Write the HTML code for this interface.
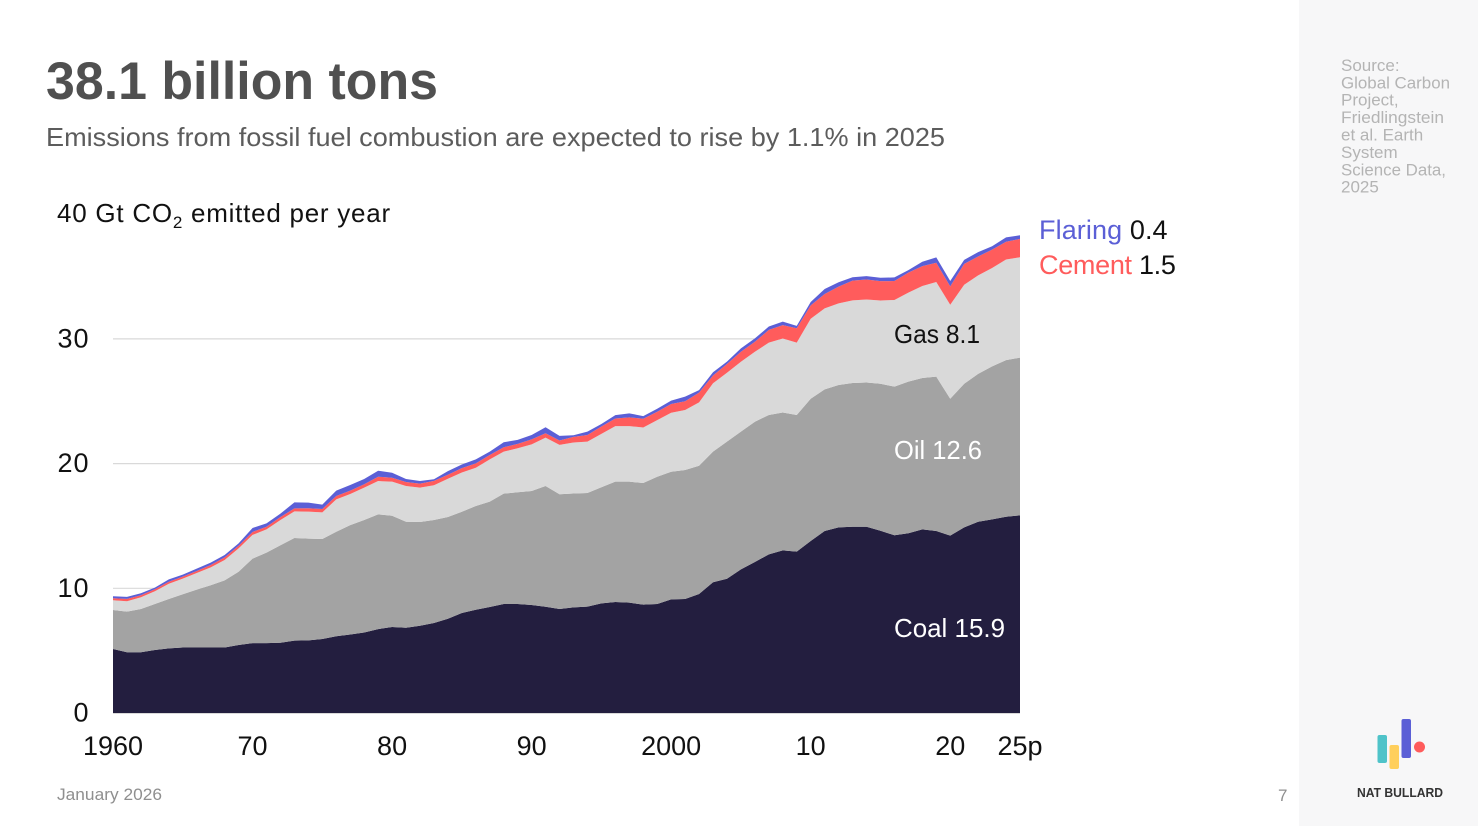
<!DOCTYPE html>
<html lang="en">
<head>
<meta charset="utf-8">
<title>38.1 billion tons</title>
<style>
html,body{margin:0;padding:0;background:#fff;width:1478px;height:826px;overflow:hidden}
svg{display:block}
text{font-family:"Liberation Sans",sans-serif}
</style>
</head>
<body>
<svg id="slide" xmlns="http://www.w3.org/2000/svg" width="1478" height="826" viewBox="0 0 1478 826">
  <rect x="0" y="0" width="1478" height="826" fill="#ffffff"/>
  <rect x="1299" y="0" width="179" height="826" fill="#f7f7f8"/>

  <text x="46" y="99" font-size="53" font-weight="700" fill="#505050" textLength="392" lengthAdjust="spacingAndGlyphs">38.1 billion tons</text>
  <text x="46" y="146" font-size="26" fill="#5c5c5c" textLength="899" lengthAdjust="spacingAndGlyphs">Emissions from fossil fuel combustion are expected to rise by 1.1% in 2025</text>

  <g id="grid"></g>
  <g id="areas"></g>
  <g id="yticks"></g>
  <g id="xticks"></g>

  <text x="57" y="222" font-size="26" fill="#111111" letter-spacing="0.75">40 Gt CO<tspan font-size="17" dy="6">2</tspan><tspan dy="-6"> emitted per year</tspan></text>

  <text x="1039" y="239" font-size="27" fill="#111111" letter-spacing="0.1"><tspan fill="#5b5fd6">Flaring</tspan> 0.4</text>
  <text x="1039" y="274" font-size="27" fill="#111111" letter-spacing="-0.3"><tspan fill="#ff5c5c">Cement</tspan> 1.5</text>
  <text x="894" y="343" font-size="26" fill="#111111" textLength="86" lengthAdjust="spacingAndGlyphs">Gas 8.1</text>
  <text x="894" y="459" font-size="26" fill="#ffffff" textLength="88" lengthAdjust="spacingAndGlyphs">Oil 12.6</text>
  <text x="894" y="637" font-size="26" fill="#ffffff" textLength="111" lengthAdjust="spacingAndGlyphs">Coal 15.9</text>

  <text x="57" y="800" font-size="17" fill="#8f8f8f" textLength="105" lengthAdjust="spacingAndGlyphs">January 2026</text>
  <text x="1278" y="801" font-size="17" fill="#8f8f8f">7</text>

  <g font-size="17" fill="#b4b4b4">
    <text x="1341" y="71">Source:</text>
    <text x="1341" y="88.3" textLength="109" lengthAdjust="spacingAndGlyphs">Global Carbon</text>
    <text x="1341" y="105.6">Project,</text>
    <text x="1341" y="122.9" textLength="103" lengthAdjust="spacingAndGlyphs">Friedlingstein</text>
    <text x="1341" y="140.7">et al. Earth</text>
    <text x="1341" y="158">System</text>
    <text x="1341" y="175.3" textLength="105" lengthAdjust="spacingAndGlyphs">Science Data,</text>
    <text x="1341" y="192.6">2025</text>
  </g>

  <g>
    <rect x="1377.5" y="735" width="9.5" height="28" rx="2" fill="#4fc3c9"/>
    <rect x="1389.5" y="745" width="9.5" height="24" rx="2" fill="#ffcf5c"/>
    <rect x="1401.5" y="719" width="9.5" height="39" rx="2" fill="#5b5fd6"/>
    <circle cx="1419.5" cy="747" r="5.5" fill="#ff5c5c"/>
    <text x="1357" y="797" font-size="13" font-weight="700" fill="#333333" textLength="86" lengthAdjust="spacingAndGlyphs">NAT BULLARD</text>
  </g>
</svg>

<script>
const years = [1960,1961,1962,1963,1964,1965,1966,1967,1968,1969,
  1970,1971,1972,1973,1974,1975,1976,1977,1978,1979,
  1980,1981,1982,1983,1984,1985,1986,1987,1988,1989,
  1990,1991,1992,1993,1994,1995,1996,1997,1998,1999,
  2000,2001,2002,2003,2004,2005,2006,2007,2008,2009,
  2010,2011,2012,2013,2014,2015,2016,2017,2018,2019,
  2020,2021,2022,2023,2024,2025];

const coal = [5.13,4.87,4.87,5.05,5.18,5.25,5.25,5.25,5.25,5.45,
  5.60,5.60,5.63,5.80,5.82,5.93,6.15,6.30,6.46,6.73,
  6.90,6.84,7.00,7.22,7.56,8.02,8.28,8.50,8.74,8.74,
  8.66,8.52,8.34,8.47,8.53,8.79,8.90,8.85,8.69,8.74,
  9.11,9.14,9.54,10.48,10.77,11.52,12.11,12.72,13.04,12.94,
  13.79,14.60,14.89,14.94,14.94,14.62,14.25,14.41,14.73,14.60,
  14.22,14.89,15.34,15.53,15.74,15.85];

const oil = [3.13,3.26,3.47,3.69,3.96,4.27,4.64,4.99,5.39,5.88,
  6.78,7.26,7.82,8.23,8.16,8.02,8.39,8.77,9.02,9.20,
  8.92,8.50,8.32,8.26,8.16,8.12,8.32,8.45,8.85,8.96,
  9.14,9.68,9.20,9.13,9.11,9.31,9.65,9.70,9.75,10.21,
  10.24,10.35,10.29,10.48,10.99,11.04,11.25,11.18,11.06,10.96,
  11.41,11.35,11.41,11.52,11.56,11.78,11.92,12.16,12.13,12.37,
  10.98,11.51,11.86,12.27,12.56,12.65];

const gas = [0.78,0.83,0.94,1.02,1.23,1.26,1.34,1.44,1.63,1.87,
  1.90,1.87,2.03,2.14,2.17,2.14,2.59,2.49,2.59,2.67,
  2.73,2.86,2.75,2.78,3.07,3.15,3.07,3.39,3.37,3.53,
  3.74,3.88,3.96,4.09,4.12,4.28,4.46,4.46,4.46,4.54,
  4.73,4.81,5.08,5.48,5.53,5.61,5.61,5.80,5.93,5.80,
  6.42,6.50,6.55,6.63,6.66,6.68,6.95,7.14,7.38,7.59,
  7.54,7.94,7.89,7.89,8.07,8.05];

const cement = [0.16,0.19,0.16,0.16,0.16,0.16,0.16,0.19,0.21,0.21,
  0.24,0.21,0.24,0.24,0.27,0.27,0.27,0.27,0.27,0.35,
  0.32,0.32,0.32,0.35,0.32,0.35,0.35,0.35,0.35,0.35,
  0.40,0.35,0.35,0.45,0.53,0.59,0.61,0.70,0.70,0.67,
  0.70,0.70,0.78,0.62,0.70,0.80,0.80,1.02,1.07,1.15,
  1.07,1.15,1.34,1.58,1.60,1.55,1.52,1.60,1.60,1.55,
  1.47,1.68,1.52,1.47,1.42,1.47];

const flaring = [0.16,0.16,0.16,0.13,0.19,0.16,0.19,0.19,0.19,0.19,
  0.32,0.27,0.27,0.48,0.45,0.35,0.43,0.45,0.43,0.48,
  0.40,0.24,0.21,0.13,0.29,0.29,0.32,0.27,0.40,0.32,
  0.35,0.48,0.37,0.13,0.27,0.21,0.27,0.32,0.21,0.24,
  0.27,0.37,0.20,0.27,0.19,0.27,0.27,0.27,0.29,0.19,
  0.27,0.40,0.35,0.27,0.27,0.27,0.29,0.21,0.35,0.43,
  0.43,0.32,0.35,0.27,0.35,0.29];

const seriesNames = ["coal","oil","gas","cement","flaring"];
const seriesValues = [coal,oil,gas,cement,flaring];
const seriesColors = ["#231e3f","#a3a3a3","#d9d9d9","#ff5c5c","#5b5fd6"];

const gridValues = [10,20,30];
const yTickValues = [0,10,20,30];
const yTickLabels = ["0","10","20","30"];
const xTickYears = [1960,1970,1980,1990,2000,2010,2020,2025];
const xTickLabels = ["1960","70","80","90","2000","10","20","25p"];

const SVGNS = "http://www.w3.org/2000/svg";
const plotLeft = 113, plotRight = 1020, plotBottom = 713, pxPerUnit = 12.47;

function xScale(year){
  return plotLeft + (year - years[0]) * (plotRight - plotLeft) / (years[years.length-1] - years[0]);
}
function yScale(value){
  return plotBottom - value * pxPerUnit;
}

const gridGroup = document.getElementById("grid");
gridValues.forEach(function(v){
  const line = document.createElementNS(SVGNS,"line");
  
  
  line.setAttribute("x1", plotLeft);
  line.setAttribute("x2", plotRight);
  line.setAttribute("y1", yScale(v));
  line.setAttribute("y2", yScale(v));
  line.setAttribute("stroke", "#d9d9d9");
  line.setAttribute("stroke-width", "1.2");
  gridGroup.appendChild(line);
});

const areaGroup = document.getElementById("areas");
const baseline = years.map(function(){ return 0; });
seriesValues.forEach(function(values, s){
  const lower = baseline.slice();
  const pts = [];
  years.forEach(function(yr, i){
    baseline[i] = lower[i] + values[i];
    pts.push(xScale(yr).toFixed(2) + "," + yScale(baseline[i]).toFixed(2));
  });
  for(let i = years.length - 1; i >= 0; i--){
    pts.push(xScale(years[i]).toFixed(2) + "," + yScale(lower[i]).toFixed(2));
  }
  const poly = document.createElementNS(SVGNS,"polygon");
  
  
  poly.setAttribute("points", pts.join(" "));
  poly.setAttribute("fill", seriesColors[s]);
  areaGroup.appendChild(poly);
});

const axisLine = document.createElementNS(SVGNS,"line");


axisLine.setAttribute("x1", plotLeft);
axisLine.setAttribute("x2", plotRight);
axisLine.setAttribute("y1", plotBottom + 0.5);
axisLine.setAttribute("y2", plotBottom + 0.5);
axisLine.setAttribute("stroke", "#d9d9d9");
axisLine.setAttribute("stroke-width", "1");
document.getElementById("xticks").appendChild(axisLine);

const yGroup = document.getElementById("yticks");
yTickValues.forEach(function(v, i){
  const t = document.createElementNS(SVGNS,"text");
  
  
  t.setAttribute("x", 89.5);
  t.setAttribute("y", yScale(v) + 8.5);
  t.setAttribute("text-anchor", "end");
  t.setAttribute("font-size", "27");
  t.setAttribute("letter-spacing", "1");
  t.setAttribute("fill", "#111111");
  t.textContent = yTickLabels[i];
  yGroup.appendChild(t);
});

const xGroup = document.getElementById("xticks");
xTickYears.forEach(function(yr, i){
  const t = document.createElementNS(SVGNS,"text");
  
  
  t.setAttribute("x", xScale(yr));
  t.setAttribute("y", 755);
  t.setAttribute("text-anchor", "middle");
  t.setAttribute("font-size", "27");
  t.setAttribute("fill", "#111111");
  t.textContent = xTickLabels[i];
  xGroup.appendChild(t);
});
</script>
</body>
</html>
